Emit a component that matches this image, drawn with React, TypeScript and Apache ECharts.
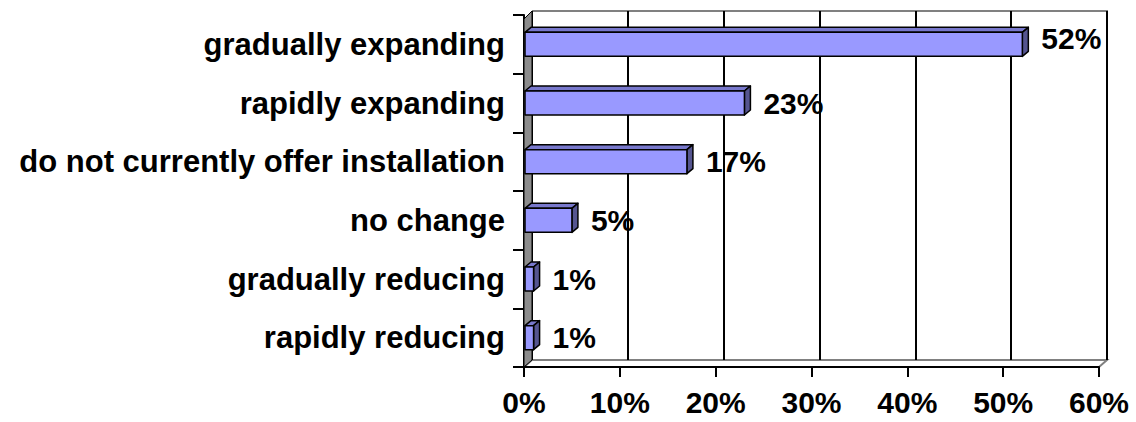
import React, { useEffect, useRef } from "react";
import * as echarts from "echarts";

const categories = [
  "gradually expanding",
  "rapidly expanding",
  "do not currently offer installation",
  "no change",
  "gradually reducing",
  "rapidly reducing",
];
const values = [52, 23, 17, 5, 1, 1];
const xMax = 60;
const xInterval = 10;

const FONT = '"Liberation Sans", Arial, Helvetica, sans-serif';

// layout (pixels)
const W = 1136;
const H = 422;
const FRONT = { left: 524, top: 15, right: 1099, bottom: 367 };
const BACK = { left: 532, top: 11, right: 1107, bottom: 360 };
const DX = 6;
const DY = 5;
const BAR_H = 24;

const COLORS = {
  front: "#9999FF",
  top: "#7878CC",
  side: "#555590",
  wall: "#8C8C8C",
  border: "#808080",
};

export default function App() {
  const ref = useRef<HTMLDivElement>(null);
  useEffect(() => {
    if (!ref.current) return;
    const chart = echarts.init(ref.current, undefined, { renderer: "svg" });
    const data = values.map((v, i) => [v, i]);
    chart.setOption({
      animation: false,
      backgroundColor: "#ffffff",
      grid: [
        {
          left: BACK.left,
          top: BACK.top,
          width: BACK.right - BACK.left,
          height: BACK.bottom - BACK.top,
          containLabel: false,
        },
        {
          left: FRONT.left,
          top: FRONT.top,
          width: FRONT.right - FRONT.left,
          height: FRONT.bottom - FRONT.top,
          containLabel: false,
        },
      ],
      xAxis: [
        {
          gridIndex: 0,
          type: "value",
          min: 0,
          max: xMax,
          interval: xInterval,
          axisLine: { show: false },
          axisTick: { show: false },
          axisLabel: { show: false },
          splitLine: { show: true, lineStyle: { color: "#000000", width: 2 } },
        },
        {
          gridIndex: 1,
          type: "value",
          min: 0,
          max: xMax,
          interval: xInterval,
          axisLine: { show: true, lineStyle: { color: "#000000", width: 2 } },
          axisTick: { show: true, length: 10, lineStyle: { color: "#000000", width: 2 } },
          axisLabel: {
            show: true,
            formatter: "{value}%",
            color: "#000000",
            fontFamily: FONT,
            fontWeight: "bold",
            fontSize: 30,
            margin: 20,
          },
          splitLine: { show: false },
        },
      ],
      yAxis: [
        {
          gridIndex: 0,
          type: "category",
          data: categories,
          inverse: true,
          show: false,
        },
        {
          gridIndex: 1,
          type: "category",
          data: categories,
          inverse: true,
          axisLine: { show: true, lineStyle: { color: "#000000", width: 2 } },
          axisTick: { show: true, length: 11, alignWithLabel: false, lineStyle: { color: "#000000", width: 2 } },
          axisLabel: {
            show: true,
            color: "#000000",
            fontFamily: FONT,
            fontWeight: "bold",
            fontSize: 31,
            margin: 19,
          },
          splitLine: { show: false },
        },
      ],
      graphic: [
        {
          type: "polygon",
          z: -1,
          shape: {
            points: [
              [FRONT.left, FRONT.bottom],
              [BACK.left, BACK.bottom],
              [BACK.right, BACK.bottom],
              [FRONT.right, FRONT.bottom],
            ],
          },
          style: { fill: "#ffffff", stroke: COLORS.border, lineWidth: 2 },
        },
        {
          type: "polyline",
          z: -1,
          shape: {
            points: [
              [BACK.left, BACK.top],
              [BACK.right, BACK.top],
              [BACK.right, BACK.bottom],
            ],
          },
          style: { fill: null, stroke: COLORS.border, lineWidth: 2 },
        },
        {
          type: "polygon",
          z: 1,
          shape: {
            points: [
              [FRONT.left, FRONT.top + 4],
              [BACK.left, BACK.top],
              [BACK.left, BACK.bottom],
              [FRONT.left, FRONT.bottom],
            ],
          },
          style: { fill: COLORS.wall, stroke: "#000000", lineWidth: 1 },
        },
      ],
      series: [
        {
          type: "custom",
          xAxisIndex: 1,
          yAxisIndex: 1,
          z: 10,
          data,
          encode: { x: 0, y: 1 },
          renderItem: (params: any, api: any) => {
            const v = api.value(0);
            const idx = api.value(1);
            const p0 = api.coord([0, idx]);
            const p1 = api.coord([v, idx]);
            const x0 = p0[0] + 1;
            const x1 = p1[0];
            const cy = p1[1];
            const yT = cy - BAR_H / 2;
            const yB = cy + BAR_H / 2;
            const stroke = { stroke: "#000000", lineWidth: 1.5, lineJoin: "round" };
            return {
              type: "group",
              children: [
                {
                  type: "polygon",
                  shape: { points: [[x0, yT], [x0 + DX, yT - DY], [x1 + DX, yT - DY], [x1, yT]] },
                  style: { fill: COLORS.top, ...stroke },
                },
                {
                  type: "polygon",
                  shape: { points: [[x1, yT], [x1 + DX, yT - DY], [x1 + DX, yB - DY], [x1, yB]] },
                  style: { fill: COLORS.side, ...stroke },
                },
                {
                  type: "rect",
                  shape: { x: x0, y: yT, width: x1 - x0, height: BAR_H },
                  style: { fill: COLORS.front, ...stroke },
                },
                {
                  type: "text",
                  x: x1 + 19,
                  y: cy - (idx === 0 ? 6 : 0),
                  style: {
                    text: v + "%",
                    fill: "#000000",
                    fontFamily: FONT,
                    fontWeight: "bold",
                    fontSize: 30,
                    verticalAlign: "middle",
                    align: "left",
                  },
                },
              ],
            };
          },
        },
      ],
    });
    return () => chart.dispose();
  }, []);
  return <div ref={ref} style={{ width: W, height: H, position: "absolute", left: 0, top: 0 }} />;
}
